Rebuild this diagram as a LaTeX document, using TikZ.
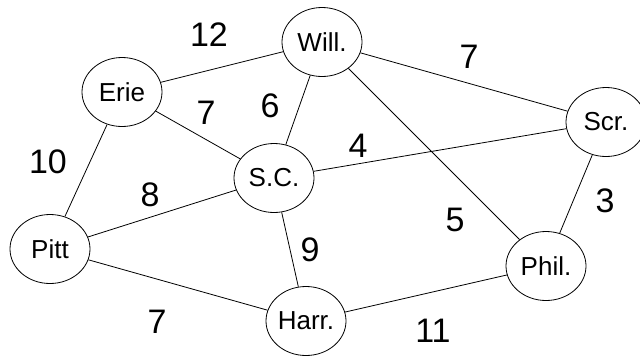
\documentclass[tikz,border=0pt]{standalone}
\usepackage{fontspec}
\setmainfont{Liberation Sans}
\usetikzlibrary{shapes.geometric}
\begin{document}
\begin{tikzpicture}[x=1pt,y=-1pt,
  city/.style={draw, ellipse, line width=0.8pt, minimum width=80pt, minimum height=69pt, inner sep=0pt, font=\fontsize{26}{26}\selectfont},
  road/.style={line width=0.8pt},
  wt/.style={inner sep=0pt, font=\fontsize{34}{34}\selectfont}]
\useasboundingbox (0,0) rectangle (640,360);
\node[city] (will) at (322,42) {Will.};
\node[city] (erie) at (122,92) {Erie};
\node[city] (scr) at (606,122) {Scr.};
\node[city] (sc) at (274,178) {S.C.};
\node[city] (pitt) at (50,249) {Pitt};
\node[city] (phil) at (546,266) {Phil.};
\node[city] (harr) at (306,321) {Harr.};
\draw[road] (erie) -- (will);
\draw[road] (will) -- (scr);
\draw[road] (erie) -- (sc);
\draw[road] (will) -- (sc);
\draw[road] (sc) -- (scr);
\draw[road] (erie) -- (pitt);
\draw[road] (pitt) -- (sc);
\draw[road] (scr) -- (phil);
\draw[road] (will) -- (phil);
\draw[road] (sc) -- (harr);
\draw[road] (pitt) -- (harr);
\draw[road] (harr) -- (phil);
\node[wt] (w1) at (209,35) {12};
\node[wt] (w2) at (469,57) {7};
\node[wt] (w3) at (206,113) {7};
\node[wt] (w4) at (270,106) {6};
\node[wt] (w5) at (358,146) {4};
\node[wt] (w6) at (48,162) {10};
\node[wt] (w7) at (150,195) {8};
\node[wt] (w8) at (605,201) {3};
\node[wt] (w9) at (455,220) {5};
\node[wt] (w10) at (310,250) {9};
\node[wt] (w11) at (157,322) {7};
\node[wt] (w12) at (433,331) {11};
\end{tikzpicture}
\end{document}
